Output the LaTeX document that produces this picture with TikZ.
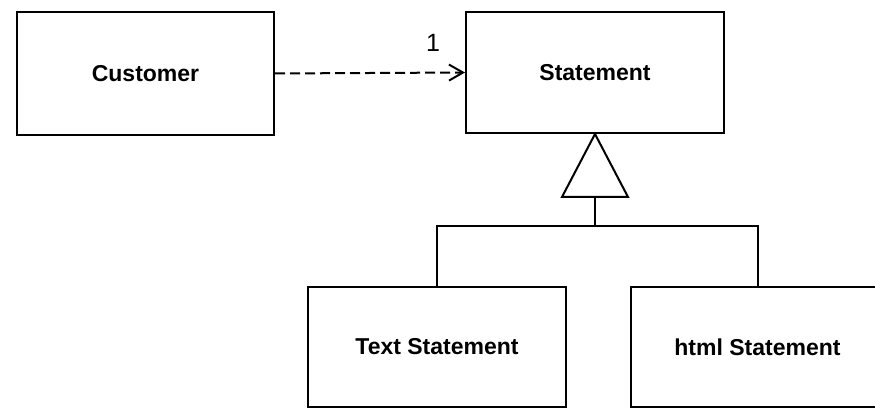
\documentclass[tikz,border=0pt]{standalone}
\usepackage{fontspec}
\setmainfont{Liberation Sans}
\usetikzlibrary{arrows.meta,shapes.geometric}
\begin{document}
\begin{tikzpicture}[x=1pt,y=1pt,
  classbox/.style={draw, line width=2pt, minimum width=#1, inner sep=0pt,
    font=\fontsize{23}{27}\selectfont\bfseries},
  conn/.style={line width=2pt},
  dep/.style={line width=2pt, dash pattern=on 10pt off 5pt,
    -{Straight Barb[length=14pt,width=16pt,line width=2pt]}},
  mult/.style={font=\fontsize{25}{28}\selectfont}]
\useasboundingbox (0,0) rectangle (875,407);
\clip (0,0) rectangle (875,407);
% classes (y measured from the bottom: y = 407 - pixel row)
\node[classbox=257pt, minimum height=123pt] (cust) at (145.5,333.5) {Customer};
\node[classbox=258pt, minimum height=121pt] (stmt) at (595,334.5) {Statement};
\node[classbox=258pt, minimum height=120pt] (txt) at (437,60) {Text Statement};
\node[classbox=253pt, minimum height=120pt] (html) at (757.5,60) {html Statement};
% dependency
\draw[dep] (cust.east) -- (stmt.west);
\node[mult] (one) at (433,364) {1};
% generalization
\node[draw, line width=2pt, isosceles triangle, shape border rotate=90,
  isosceles triangle stretches, minimum height=63pt, minimum width=66pt,
  inner sep=0pt, outer sep=0pt, anchor=apex] (tri) at (stmt.south) {};
\coordinate (j) at (595,181);
\draw[conn] (tri.south) -- (tri.south |- j);
\draw[conn] (txt.north) -- (txt.north |- j) -- (html.north |- j) -- (html.north);
\end{tikzpicture}
\end{document}
